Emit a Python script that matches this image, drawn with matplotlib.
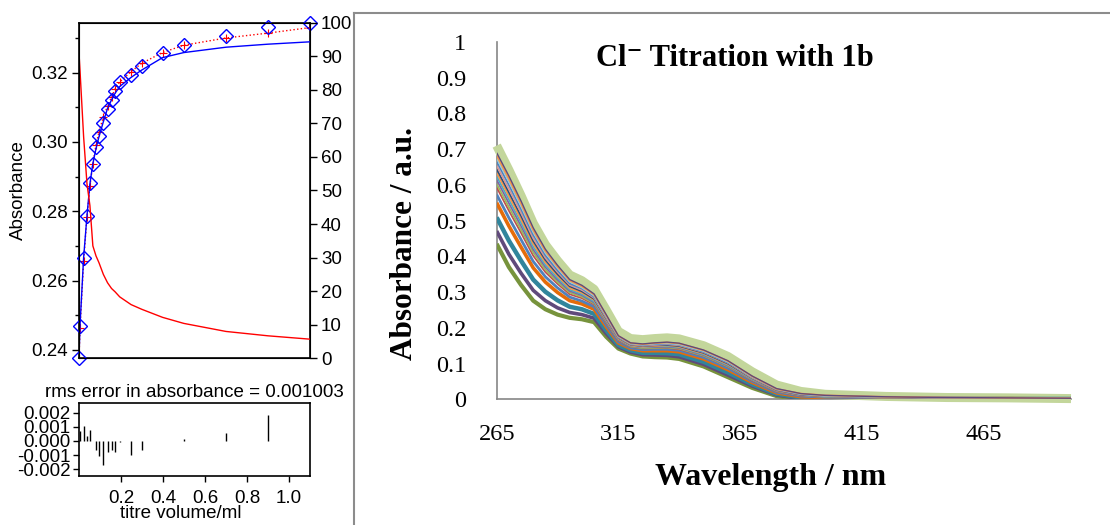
#!/usr/bin/env python3
"""
Titration fit (left) and UV-vis spectra of the Cl- titration (right)
"""

import matplotlib
matplotlib.use('Agg')
import matplotlib.pyplot as plt
from matplotlib.lines import Line2D

plt.rcParams['axes.unicode_minus'] = False

W, H = 1110, 525

# ---------------- left panel: fit of the titration ----------------
titre_ml = [0.0, 0.005, 0.022, 0.038, 0.052, 0.066, 0.081, 0.095, 0.116, 0.136,
            0.155, 0.172, 0.194, 0.248, 0.299, 0.398, 0.499, 0.700, 0.900, 1.100]
abs_obs = [0.2376, 0.2470, 0.2666, 0.2787, 0.2881, 0.2937, 0.2985, 0.3018, 0.3055, 0.3096,
           0.3122, 0.3146, 0.3172, 0.3193, 0.3220, 0.3258, 0.3280, 0.3306, 0.3333, 0.3344]
abs_calc = [0.2376, 0.2463, 0.2656, 0.2784, 0.2873, 0.2937, 0.2992, 0.3029, 0.3072, 0.3104,
            0.3129, 0.3154, 0.3173, 0.3203, 0.3227, 0.3258, 0.3279, 0.3300, 0.3314, 0.3330]
residual = [0.0, 0.00068, 0.00104, 0.00033, 0.00080, 0.0, -0.00066, -0.00108, -0.00167, -0.00078,
            -0.00066, -0.00078, -0.00005, -0.00101, -0.00066, -0.00002, 0.00014, 0.00056, 0.00186, 0.0]
pct_free = [91.0, 85.5, 66.0, 52.0, 45.5, 33.5, 30.5, 28.5, 25.0, 22.5,
            20.8, 19.8, 18.3, 16.0, 14.6, 12.2, 10.4, 8.0, 6.7, 5.7]
pct_complex = [0.5, 10.0, 30.0, 42.5, 52.0, 58.0, 62.5, 66.0, 70.5, 74.5,
               77.0, 79.0, 81.0, 83.7, 85.9, 89.6, 91.1, 92.7, 93.6, 94.3]
rms_text = 'rms error in absorbance = 0.001003'

# ---------------- right panel: spectra ----------------
wavelength = [265, 270, 275, 280, 285, 290, 295, 300, 305, 310, 315, 320, 325,
              330, 335, 340, 350, 360, 370, 380, 390, 400, 425, 450, 475, 501]
abs_00 = [.435, .370, .320, .276, .252, .237, .228, .224, .216, .175, .142, .128, .120,
          .118, .117, .113, .092, .062, .032, .009, .000, .000, .000, .000, .000, .000]
abs_01 = [.471, .406, .353, .305, .276, .256, .243, .237, .227, .184, .147, .132, .125,
          .124, .123, .119, .098, .068, .037, .012, .002, .002, .001, .001, .001, .000]
abs_02 = [.509, .444, .388, .335, .301, .277, .259, .252, .239, .193, .152, .137, .130,
          .130, .129, .126, .105, .075, .042, .015, .005, .003, .002, .001, .001, .001]
abs_03 = [.550, .485, .426, .368, .328, .299, .276, .267, .252, .203, .158, .142, .136,
          .136, .136, .133, .113, .083, .047, .018, .007, .005, .003, .002, .002, .001]
abs_04 = [.573, .508, .447, .386, .343, .312, .286, .275, .259, .208, .161, .144, .139,
          .140, .140, .137, .117, .087, .050, .020, .009, .006, .004, .003, .002, .002]
abs_05 = [.593, .528, .466, .402, .356, .323, .294, .283, .265, .213, .164, .147, .142,
          .143, .144, .140, .121, .091, .052, .022, .010, .007, .004, .003, .002, .002]
abs_06 = [.603, .538, .475, .411, .363, .328, .299, .287, .268, .216, .166, .148, .143,
          .144, .145, .142, .122, .092, .054, .023, .011, .007, .005, .003, .003, .002]
abs_07 = [.614, .549, .485, .419, .370, .334, .303, .291, .271, .218, .167, .149, .145,
          .146, .147, .144, .124, .094, .055, .024, .011, .008, .005, .004, .003, .002]
abs_08 = [.624, .559, .494, .427, .376, .339, .307, .294, .274, .221, .169, .150, .146,
          .148, .149, .146, .126, .096, .056, .025, .012, .008, .005, .004, .003, .002]
abs_09 = [.634, .569, .503, .435, .383, .345, .311, .298, .278, .223, .170, .151, .147,
          .149, .151, .147, .128, .098, .058, .025, .012, .009, .005, .004, .003, .002]
abs_10 = [.644, .579, .513, .443, .390, .350, .316, .302, .281, .226, .172, .153, .149,
          .151, .152, .149, .130, .100, .059, .026, .013, .009, .006, .004, .003, .002]
abs_11 = [.654, .589, .522, .451, .396, .356, .320, .306, .284, .228, .173, .154, .150,
          .152, .154, .151, .132, .102, .060, .027, .014, .009, .006, .004, .003, .003]
abs_12 = [.665, .600, .532, .460, .403, .361, .324, .310, .287, .231, .174, .155, .152,
          .154, .156, .153, .133, .103, .062, .028, .014, .010, .006, .005, .004, .003]
abs_13 = [.675, .610, .541, .468, .410, .367, .329, .313, .290, .233, .176, .156, .153,
          .156, .157, .154, .135, .105, .063, .029, .015, .010, .007, .005, .004, .003]
abs_14 = [.682, .617, .548, .474, .415, .371, .332, .316, .293, .235, .177, .157, .154,
          .157, .159, .156, .137, .107, .064, .029, .016, .011, .007, .005, .004, .003]
abs_15 = [.690, .625, .555, .480, .420, .375, .335, .319, .295, .237, .178, .158, .155,
          .158, .160, .157, .138, .108, .065, .030, .016, .011, .007, .005, .004, .003]
abs_16 = [.710, .642, .570, .493, .433, .388, .348, .332, .308, .250, .190, .170, .167,
          .170, .172, .169, .150, .120, .077, .040, .022, .014, .008, .005, .004, .002]

spec_title = 'Cl\u207b Titration with 1b'
spec_xticks = [265, 315, 365, 415, 465]
spec_yticks = [0, 0.1, 0.2, 0.3, 0.4, 0.5, 0.6, 0.7, 0.8, 0.9, 1]
spec_ytick_labels = ['0', '0.1', '0.2', '0.3', '0.4', '0.5', '0.6', '0.7', '0.8', '0.9', '1']


def fig_rect(x0, y0, x1, y1):
    """pixel box -> figure fraction rect"""
    return [x0 / W, 1 - y1 / H, (x1 - x0) / W, (y1 - y0) / H]


def plot_fit(fig):
    sans = 'Liberation Sans'
    fs = 13.5

    ax = fig.add_axes(fig_rect(79, 22.7, 310, 358.3))
    ax.plot(titre_ml, abs_calc, color='red', ls=':', lw=1.0, marker='+', ms=6,
            mew=0.8, zorder=3)
    ax.plot(titre_ml, abs_obs, ls='none', marker='D', ms=7.5, mfc='none', mec='blue',
            mew=1.0, zorder=4, clip_on=False)
    ax.set_xlim(0, 1.1)
    ax.set_ylim(0.2376, 0.3344)
    ax.set_xticks([])
    ax.set_yticks([0.24, 0.26, 0.28, 0.30, 0.32])
    ax.set_yticks([0.25, 0.27, 0.29, 0.31, 0.33], minor=True)
    ax.set_yticklabels(['0.24', '0.26', '0.28', '0.30', '0.32'], family=sans, fontsize=fs)
    ax.tick_params(axis='y', which='major', length=5, width=1, direction='out', pad=3)
    ax.tick_params(axis='y', which='minor', length=3, width=1, direction='out')
    ax.set_ylabel('Absorbance', family=sans, fontsize=fs, va='center')
    ax.yaxis.set_label_coords(-61 / 231, 0.5)
    for s in ax.spines.values():
        s.set_linewidth(1.2)

    ax2 = ax.twinx()
    ax2.plot(titre_ml, pct_complex, color='blue', lw=1.0)
    ax2.plot(titre_ml, pct_free, color='red', lw=1.0)
    ax2.set_ylim(0, 100)
    ax2.set_yticks(range(0, 101, 10))
    ax2.set_yticklabels([str(v) for v in range(0, 101, 10)], family=sans, fontsize=fs)
    ax2.tick_params(axis='y', length=5, width=1, direction='out', pad=3)

    # residuals
    axr = fig.add_axes(fig_rect(79, 402.7, 310, 476))
    axr.vlines(titre_ml, 0, residual, color='black', lw=1.0)
    axr.set_xlim(0, 1.1)
    axr.set_ylim(-0.00247, 0.0027)
    axr.set_yticks([-0.002, -0.001, 0.0, 0.001, 0.002])
    axr.set_yticklabels(['-0.002', '-0.001', '0.000', '0.001', '0.002'],
                        family=sans, fontsize=fs)
    axr.set_xticks([0.2, 0.4, 0.6, 0.8, 1.0])
    axr.set_xticklabels(['0.2', '0.4', '0.6', '0.8', '1.0'], family=sans, fontsize=fs)
    axr.tick_params(axis='y', length=4, width=1, direction='out', pad=2)
    axr.tick_params(axis='x', length=4, width=1, direction='out', pad=6)
    axr.set_xlabel('titre volume/ml', family=sans, fontsize=fs, va='center')
    axr.xaxis.set_label_coords(102 / 231, -38 / 73.3)
    axr.set_title(rms_text, family=sans, fontsize=fs, pad=4)
    for s in axr.spines.values():
        s.set_linewidth(1.2)


def plot_spectra(fig):
    serif = ['Liberation Serif', 'DejaVu Serif']
    ax = fig.add_axes(fig_rect(496.7, 42, 1071, 399.3))

    series = [abs_00, abs_01, abs_02, abs_03, abs_04, abs_05, abs_06, abs_07, abs_08,
              abs_09, abs_10, abs_11, abs_12, abs_13, abs_14, abs_15]
    colors = ['#77933C', '#604A7B', '#31859C', '#E46C0A', '#4F81BD', '#C0504D',
              '#9BBB59', '#8064A2', '#4BACC6', '#F79646', '#2C4D75', '#D99694',
              '#4F81BD', '#93CDDD', '#F79646', '#604A7B']
    widths = [3.0, 2.6, 3.2, 2.6, 2.0, 1.3, 1.3, 1.3, 1.3, 1.3, 1.3, 1.3, 1.3, 1.3, 1.3, 1.0]

    # pale green band sits behind all other traces
    ax.plot(wavelength, abs_16, color='#C3D69B', lw=6.5, solid_capstyle='butt',
            solid_joinstyle='round', zorder=1, clip_on=False)
    for i, (vals, c, lw) in enumerate(zip(series, colors, widths)):
        ax.plot(wavelength, vals, color=c, lw=lw, solid_capstyle='butt',
                solid_joinstyle='round', zorder=2 + i)

    ax.set_xlim(265, 501)
    ax.set_ylim(0, 1)
    ax.set_xticks(spec_xticks)
    ax.set_xticklabels([str(v) for v in spec_xticks], family=serif, fontsize=17.5)
    ax.set_yticks(spec_yticks)
    ax.set_yticklabels(spec_ytick_labels, family=serif, fontsize=17.5)
    ax.tick_params(axis='y', length=0, pad=22)
    ax.tick_params(axis='x', length=0, pad=18)
    for side in ['top', 'right']:
        ax.spines[side].set_visible(False)
    for side in ['left', 'bottom']:
        ax.spines[side].set_color('#868686')
        ax.spines[side].set_linewidth(1.2)
        ax.spines[side].set_zorder(0.5)

    ax.set_xlabel('Wavelength / nm', family=serif, fontsize=23, fontweight='bold',
                  va='center')
    ax.xaxis.set_label_coords((771 - 496.7) / 574.3, -(477 - 399.3) / 357.3)
    ax.set_ylabel('Absorbance / a.u.', family=serif, fontsize=22.5, fontweight='bold',
                  va='center')
    ax.yaxis.set_label_coords(-(496.7 - 404) / 574.3, (399.3 - 243) / 357.3)
    ax.text(0.415, 0.955, spec_title, transform=ax.transAxes, ha='center', va='center',
            family=serif, fontsize=22, fontweight='bold')

    # chart frame of the spreadsheet object
    xf = 353.5 / W
    yf = 1 - 12.7 / H
    fig.add_artist(Line2D([xf, xf], [0, yf], transform=fig.transFigure,
                          color='#8C8C8C', lw=1.5))
    fig.add_artist(Line2D([xf, 1], [yf, yf], transform=fig.transFigure,
                          color='#8C8C8C', lw=1.5))


def main():
    fig = plt.figure(figsize=(W / 100, H / 100), dpi=100)
    plot_fit(fig)
    plot_spectra(fig)
    fig.savefig('out.png', dpi=100)
    plt.close(fig)


if __name__ == '__main__':
    main()
